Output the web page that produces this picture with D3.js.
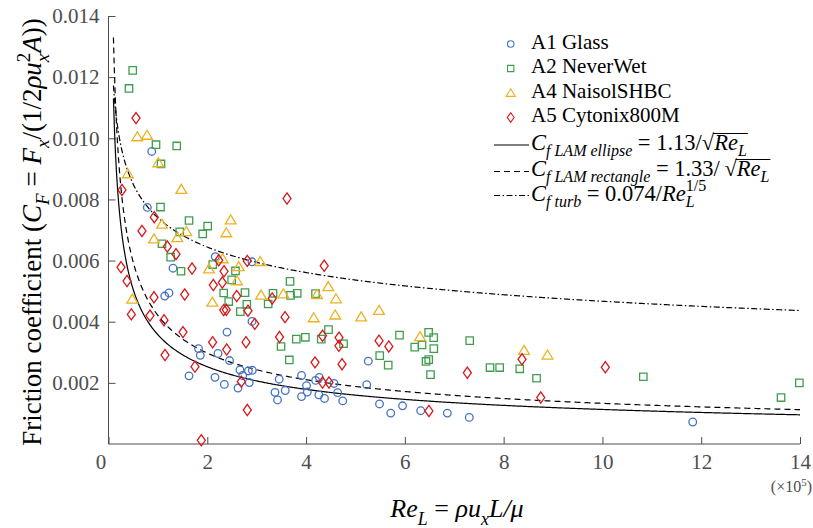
<!DOCTYPE html>
<meta charset="utf-8" />
<script src="https://d3js.org/d3.v7.min.js"></script>
<style>
  body { margin: 0; background: #fff; }
  text { font-family: "Liberation Serif", "Times New Roman", serif; }
</style>
<div id="chart"></div>
<script>
  // Re_L in units of 1e5, friction coefficient
  var glassX = [0.875, 0.786, 1.306, 1.138, 1.225, 2.162, 2.905, 2.905, 2.399, 1.822, 1.859, 1.63, 2.217, 2.45, 2.156, 2.345, 2.662, 2.717, 2.622, 2.831, 2.912, 2.849, 3.456, 3.371, 3.422, 3.578, 3.908, 4.009, 4.025, 3.908, 4.193, 4.268, 4.258, 4.373, 4.566, 4.639, 4.742, 5.228, 5.26, 5.487, 5.714, 5.953, 6.321, 6.86, 7.305, 11.828];
  var glassY = [0.00957, 0.00774, 0.00575, 0.00484, 0.00494, 0.00613, 0.00596, 0.00401, 0.00366, 0.00312, 0.0029, 0.00223, 0.00296, 0.00273, 0.00218, 0.00195, 0.00242, 0.00224, 0.00183, 0.00239, 0.00241, 0.00201, 0.00212, 0.00169, 0.00144, 0.00175, 0.00224, 0.00191, 0.0017, 0.00155, 0.00208, 0.00218, 0.00161, 0.00149, 0.00198, 0.00168, 0.00141, 0.00194, 0.00271, 0.00131, 0.00101, 0.00125, 0.00109, 0.00101, 0.00087, 0.00072];

  var neverWetX = [0.49, 0.415, 0.962, 1.381, 1.063, 1.053, 1.63, 2.008, 1.907, 1.442, 1.083, 1.259, 1.468, 2.11, 2.571, 2.494, 2.332, 2.764, 3.331, 3.685, 3.821, 4.191, 3.675, 2.434, 2.669, 2.8, 3.233, 3.802, 3.985, 4.307, 4.454, 3.493, 4.758, 5.892, 5.491, 3.661, 5.663, 6.481, 6.584, 6.2, 6.347, 6.586, 7.313, 6.428, 6.483, 6.52, 7.724, 7.919, 8.326, 8.666, 10.828, 13.616, 13.987];
  var neverWetY = [0.01222, 0.01163, 0.00979, 0.00975, 0.00916, 0.00775, 0.00731, 0.00713, 0.00687, 0.00694, 0.00655, 0.00611, 0.00565, 0.00587, 0.00566, 0.00537, 0.00494, 0.00495, 0.00493, 0.00486, 0.00493, 0.00492, 0.00532, 0.00466, 0.00433, 0.00457, 0.00458, 0.00343, 0.00349, 0.00343, 0.00374, 0.00319, 0.00328, 0.00356, 0.00289, 0.00275, 0.00258, 0.00365, 0.00348, 0.00317, 0.00324, 0.00312, 0.00338, 0.0027, 0.00276, 0.00227, 0.0025, 0.0025, 0.00246, 0.00215, 0.0022, 0.00152, 0.002];

  var naisolX = [0.583, 0.78, 1.008, 0.391, 1.474, 1.083, 2.474, 2.385, 1.575, 1.393, 0.921, 2.312, 3.071, 2.035, 2.636, 2.602, 3.088, 3.539, 4.221, 4.45, 4.606, 2.102, 0.482, 4.155, 4.59, 5.116, 5.477, 6.307, 8.413, 8.888];
  var naisolY = [0.01005, 0.0101, 0.0092, 0.00884, 0.00833, 0.00719, 0.00733, 0.00691, 0.00695, 0.00675, 0.00671, 0.00606, 0.00597, 0.00573, 0.0058, 0.00534, 0.00487, 0.00491, 0.00489, 0.00515, 0.00475, 0.00464, 0.00474, 0.00413, 0.00422, 0.00416, 0.00437, 0.00351, 0.00306, 0.00291];

  var cytonixX = [0.557, 0.273, 3.614, 0.927, 0.678, 1.191, 1.367, 0.253, 1.691, 0.375, 0.921, 1.543, 0.462, 0.84, 1.124, 1.508, 2.108, 2.784, 2.393, 2.231, 2.81, 2.339, 2.122, 2.304, 2.596, 3.314, 4.367, 2.385, 2.332, 2.824, 2.962, 3.574, 3.462, 4.333, 4.667, 4.665, 5.477, 5.675, 1.144, 1.751, 2.689, 2.81, 1.879, 4.181, 4.333, 4.464, 4.728, 7.265, 8.372, 8.751, 10.059, 6.487];
  var cytonixY = [0.01066, 0.00831, 0.00803, 0.00742, 0.00697, 0.00646, 0.00621, 0.00578, 0.00574, 0.00533, 0.0048, 0.00489, 0.00424, 0.0042, 0.00405, 0.00366, 0.00333, 0.00333, 0.00309, 0.00601, 0.00599, 0.00565, 0.0052, 0.00528, 0.00484, 0.00476, 0.00583, 0.00439, 0.00438, 0.00436, 0.00393, 0.00415, 0.0035, 0.00354, 0.00348, 0.00321, 0.00338, 0.00319, 0.00291, 0.00253, 0.00204, 0.00111, 0.00012, 0.00267, 0.00201, 0.00201, 0.00261, 0.00233, 0.00277, 0.00152, 0.00251, 0.00108];

  var seriesNames = ["A1 Glass", "A2 NeverWet", "A4 NaisolSHBC", "A5 Cytonix800M"];
  var xTicks = [0, 2, 4, 6, 8, 10, 12, 14];
  var yTicks = [0.002, 0.004, 0.006, 0.008, 0.01, 0.012, 0.014];

  // correlation coefficients from the legend
  var lamEllipse = 1.13, lamRect = 1.33, turb = 0.074;

  var width = 813, height = 528;
  var axisColor = "#4d4d4d";

  var svg = d3.select("#chart").append("svg")
    .attr("width", width)
    .attr("height", height);

  var x = d3.scaleLinear().domain([0, 14]).range([108.5, 800]);
  var y = d3.scaleLinear().domain([0, 0.014]).range([444, 16]);

  // axes, ticks pointing inwards like matlab
  var xAxis = svg.append("g")
    .attr("transform", "translate(0,444)")
    .call(d3.axisBottom(x).tickValues(xTicks).tickFormat(d3.format("d"))
      .tickSizeInner(-7).tickSizeOuter(0).tickPadding(10));
  var yAxis = svg.append("g")
    .attr("transform", "translate(108.5,0)")
    .call(d3.axisLeft(y).tickValues(yTicks).tickFormat(d3.format(".3f"))
      .tickSizeInner(-7).tickSizeOuter(0).tickPadding(9));

  [xAxis, yAxis].forEach(function (a) {
    a.selectAll("path, line").attr("stroke", axisColor).attr("stroke-width", 1);
    a.selectAll("text").attr("fill", axisColor).style("font-size", "21px")
      .style("font-family", "'Liberation Serif', serif");
  });
  xAxis.select(".domain").attr("d", "M108.5,0H800");
  yAxis.select(".domain").attr("d", "M0,444V16");
  xAxis.selectAll(".tick text").filter(function (d) { return d === 0; }).attr("dx", "-8");

  var mult = svg.append("text")
    .attr("x", 812).attr("y", 492)
    .attr("text-anchor", "end")
    .attr("fill", axisColor)
    .style("font-size", "16px");
  mult.append("tspan").text("(\u00d710");
  mult.append("tspan").attr("dy", -6).style("font-size", "11px").text("5");
  mult.append("tspan").attr("dy", 6).text(")");

  // theory curves
  var reGrid = d3.range(0.1, 14.001, 0.02);
  var curves = [
    { f: function (r) { return lamEllipse / Math.sqrt(r * 1e5); }, dash: null },
    { f: function (r) { return lamRect / Math.sqrt(r * 1e5); }, dash: "6,4" },
    { f: function (r) { return turb / Math.pow(r * 1e5, 0.2); }, dash: "6,2.5,1.5,2.5" }
  ];
  curves.forEach(function (c) {
    svg.append("path")
      .datum(reGrid)
      .attr("fill", "none")
      .attr("stroke", "#000")
      .attr("stroke-width", 1.2)
      .attr("stroke-dasharray", c.dash)
      .attr("d", d3.line().x(function (r) { return x(r); }).y(function (r) { return y(c.f(r)); }));
  });

  // markers
  var colors = ["#4472c4", "#3f9e4d", "#edb120", "#d7191c"];
  var shapes = [
    "M3.8,0A3.8,3.8,0,1,1,-3.8,0A3.8,3.8,0,1,1,3.8,0Z",
    "M-3.7,-3.7H3.7V3.7H-3.7Z",
    "M0,-5L5.4,4H-5.4Z",
    "M0,-5.6L4,0L0,5.6L-4,0Z"
  ];
  var sets = [[glassX, glassY], [neverWetX, neverWetY], [naisolX, naisolY], [cytonixX, cytonixY]];

  sets.forEach(function (s, i) {
    var pts = s[0].map(function (v, j) { return [v, s[1][j]]; });
    svg.append("g").selectAll("path")
      .data(pts)
      .join("path")
      .attr("d", shapes[i])
      .attr("transform", function (d) { return "translate(" + x(d[0]) + "," + y(d[1]) + ")"; })
      .attr("fill", "none")
      .attr("stroke", colors[i])
      .attr("stroke-width", 1.3);
  });

  // lays out a formula as tspans of one text, returns x marks
  function mathText(g, x0, y0, parts, big, small) {
    var cx = x0, marks = {};
    var t = g.append("text").attr("fill", "#000").attr("xml:space", "preserve");
    parts.forEach(function (p) {
      var sz = p.sub || p.sup ? small : big;
      var off = p.sub ? big * 0.3 : p.sup ? -big * 0.42 : 0;
      if (p.mark) marks[p.mark] = cx;
      var ts = t.append("tspan")
        .attr("x", cx)
        .attr("y", y0 + off)
        .style("font-size", sz + "px")
        .style("font-style", p.it ? "italic" : "normal")
        .text(p.t);
      if (!p.stay) cx += ts.node().getComputedTextLength();
    });
    marks.end = cx;
    return marks;
  }

  // legend
  var legend = svg.append("g");
  seriesNames.forEach(function (name, i) {
    var ly = 48.5 + i * 24.5;
    legend.append("path")
      .attr("d", shapes[i])
      .attr("transform", "translate(510.7," + (ly - 4.5) + ") scale(0.85)")
      .attr("fill", "none")
      .attr("stroke", colors[i])
      .attr("stroke-width", 1.3);
    legend.append("text")
      .attr("x", 531).attr("y", ly)
      .style("font-size", "21px")
      .text(name);
  });

  var lineRows = [
    { dash: null, ly: 145, base: 149.5, parts: [
      { t: "C", it: true }, { t: "f LAM ellipse", it: true, sub: true },
      { t: " = 1.13/" }, { t: "\u221a" }, { t: "Re", it: true, mark: "r0" }, { t: "L", it: true, sub: true }],
      root: true },
    { dash: "6,4", ly: 171.5, base: 175.5, parts: [
      { t: "C", it: true }, { t: "f LAM rectangle", it: true, sub: true },
      { t: " = 1.33/\u2009" }, { t: "\u221a" }, { t: "Re", it: true, mark: "r0" }, { t: "L", it: true, sub: true }],
      root: true },
    { dash: "6,2.5,1.5,2.5", ly: 195.5, base: 200.5, parts: [
      { t: "C", it: true }, { t: "f turb", it: true, sub: true },
      { t: " = 0.074/" }, { t: "Re", it: true }, { t: "L", it: true, sub: true, stay: true },
      { t: "1/5", sup: true }],
      root: false }
  ];
  lineRows.forEach(function (row) {
    legend.append("line")
      .attr("x1", 494).attr("x2", 529)
      .attr("y1", row.ly).attr("y2", row.ly)
      .attr("stroke", "#000")
      .attr("stroke-width", 1.2)
      .attr("stroke-dasharray", row.dash);
    var m = mathText(legend, 531, row.base, row.parts, 22.5, 16);
    if (row.root) {
      legend.append("line")
        .attr("x1", m.r0 - 1).attr("x2", m.end + 1)
        .attr("y1", row.base - 16).attr("y2", row.base - 16)
        .attr("stroke", "#000").attr("stroke-width", 1);
    }
  });

  // axis titles
  var xt = svg.append("g");
  var xm = mathText(xt, 0, 517, [
    { t: "Re", it: true }, { t: "L", it: true, sub: true }, { t: " = " },
    { t: "\u03c1u", it: true }, { t: "x", it: true, sub: true }, { t: "L/\u03bc", it: true }
  ], 26, 18);
  xt.attr("transform", "translate(" + (457 - xm.end / 2) + ",0)");

  var yt = svg.append("g").attr("transform", "translate(41,232) rotate(-90)");
  var yin = yt.append("g");
  var ym = mathText(yin, 0, 0, [
    { t: "Friction coefficient (" }, { t: "C", it: true }, { t: "F", it: true, sub: true },
    { t: " = " }, { t: "F", it: true }, { t: "x", it: true, sub: true }, { t: "/(1/2" },
    { t: "\u03c1u", it: true }, { t: "x", it: true, sub: true, stay: true }, { t: "2", sup: true },
    { t: "A", it: true }, { t: "))" }
  ], 27, 19);
  yin.attr("transform", "translate(" + (-ym.end / 2) + ",0)");
</script>
